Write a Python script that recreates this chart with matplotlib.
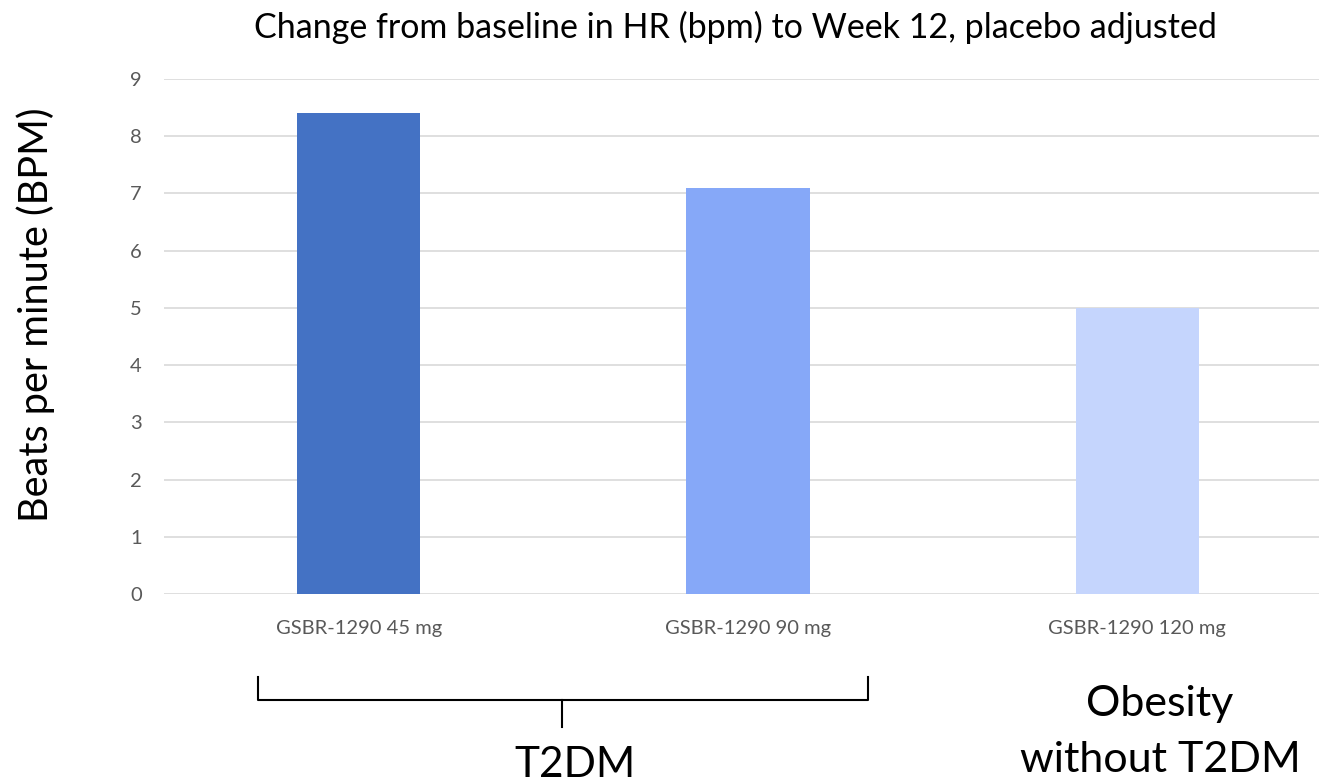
import matplotlib
matplotlib.use("Agg")
import matplotlib.pyplot as plt
from matplotlib.lines import Line2D

# chart data
doses = ["GSBR-1290 45 mg", "GSBR-1290 90 mg", "GSBR-1290 120 mg"]
hr_change = [8.4, 7.1, 5.0]
bar_colors = ["#4472C4", "#86A8F8", "#C5D5FD"]
yticks = [0, 1, 2, 3, 4, 5, 6, 7, 8, 9]

plt.rcParams['font.family'] = ['Lato', 'DejaVu Sans']

W, H = 1319, 783
fig = plt.figure(figsize=(W / 100, H / 100), dpi=100)
# right edge runs past the figure, as in the original the grid is cut at the border
ax = fig.add_axes([164 / W, 1 - 594 / H, (1332 - 164) / W, (594 - 79) / H])

x = list(range(len(doses)))
ax.bar(x, hr_change, width=0.316, color=bar_colors, zorder=3)

ax.set_xlim(-0.5, 2.5)
ax.set_ylim(0, 9)
ax.set_yticks(yticks)
ax.set_xticks(x)
ax.set_xticklabels(doses)
ax.tick_params(axis='both', length=0, colors='#595959', labelsize=14.5)
ax.tick_params(axis='x', pad=19)
ax.tick_params(axis='y', pad=16)
ax.grid(axis='y', color='#D9D9D9', linewidth=1.2, zorder=0)
for s in ax.spines.values():
    s.set_visible(False)

fig.text(735 / W, 1 - 27 / H, "Change from baseline in HR (bpm) to Week 12, placebo adjusted",
         ha='center', va='center', fontsize=24.5, color='#000000')
fig.text(36 / W, 1 - 315 / H, "Beats per minute (BPM)", rotation=90,
         ha='center', va='center', fontsize=28.5, color='#000000')

# bracket grouping the T2DM doses
def figline(xs, ys):
    fig.add_artist(Line2D([v / W for v in xs], [1 - v / H for v in ys],
                          color='black', linewidth=1.5))

figline([258, 258, 868, 868], [677, 700, 700, 677])
figline([562, 562], [700, 727])

fig.text(575 / W, 1 - 765 / H, "T2DM", ha='center', va='center', fontsize=30.5)
fig.text(1160 / W, 1 - 704 / H, "Obesity", ha='center', va='center', fontsize=31)
fig.text(1160 / W, 1 - 760 / H, "without T2DM", ha='center', va='center', fontsize=31)

fig.savefig("out.png", dpi=100)
